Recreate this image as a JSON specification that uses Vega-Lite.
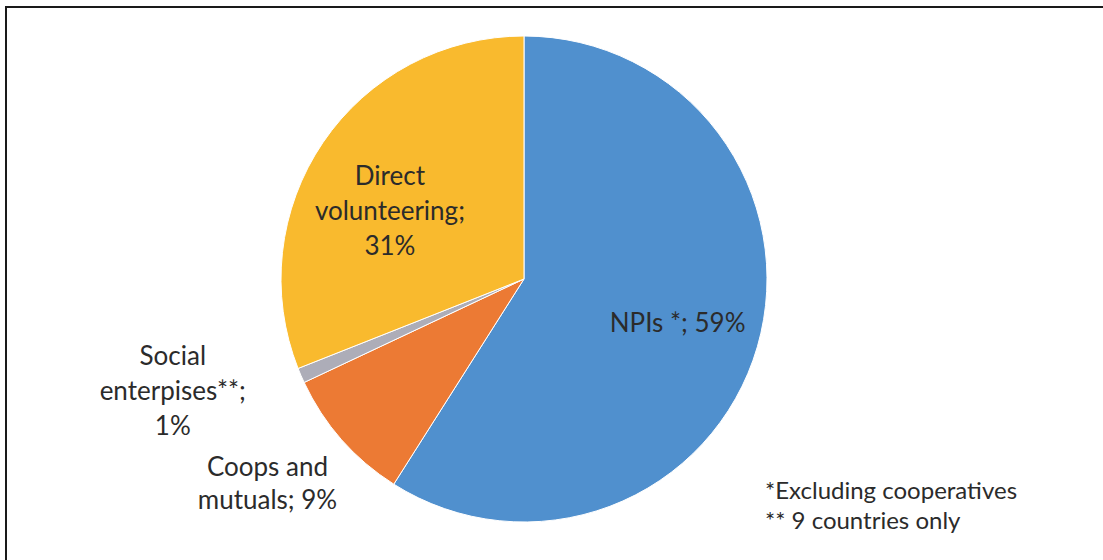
{
  "$schema": "https://vega.github.io/schema/vega-lite/v6.json",
  "width": 1101,
  "height": 557,
  "autosize": {"type": "none"},
  "padding": {"left": 6, "top": 7, "right": -4, "bottom": -4},
  "background": "white",
  "config": {
    "view": {"stroke": "#1a1a1a", "strokeWidth": 2},
    "text": {"font": "Lato", "fontSize": 26, "fill": "#2b2b2b", "lineBreak": "\n"}
  },
  "data": {
    "values": [
      {"key": "npi", "label": "NPIs *; 59%", "value": 59, "order": 1},
      {"key": "coop", "label": "Coops and\nmutuals; 9%", "value": 9, "order": 2},
      {"key": "social", "label": "Social\nenterpises**;\n1%", "value": 1, "order": 3},
      {"key": "direct", "label": "Direct\nvolunteering;\n31%", "value": 31, "order": 4}
    ]
  },
  "encoding": {
    "x": {"datum": 47.048, "type": "quantitative", "scale": {"domain": [0, 100], "nice": false, "zero": false}, "axis": null},
    "y": {"datum": 48.833, "type": "quantitative", "scale": {"domain": [0, 100], "nice": false, "zero": false, "reverse": true}, "axis": null},
    "theta": {"field": "value", "type": "quantitative", "stack": true},
    "order": {"field": "order", "type": "quantitative"}
  },
  "layer": [
    {
      "mark": {"type": "arc", "outerRadius": 243, "stroke": "white", "strokeWidth": 1},
      "encoding": {
        "color": {
          "field": "key",
          "type": "nominal",
          "scale": {"domain": ["npi", "coop", "social", "direct"], "range": ["#5090CE", "#EC7A34", "#ADADB8", "#F9BA2E"]},
          "legend": null
        }
      }
    },
    {
      "mark": {"type": "text", "radius": 160, "align": "center", "baseline": "middle", "lineHeight": 36},
      "encoding": {"text": {"condition": {"test": "datum.key === 'npi'", "field": "label"}, "value": ""}}
    },
    {
      "mark": {"type": "text", "radius": 150, "align": "center", "baseline": "middle", "lineHeight": 35, "dx": -10, "dy": -18},
      "encoding": {"text": {"condition": {"test": "datum.key === 'direct'", "field": "label"}, "value": ""}}
    },
    {
      "mark": {"type": "text", "radius": 362, "align": "center", "baseline": "middle", "lineHeight": 35, "dx": -19, "dy": -66},
      "encoding": {"text": {"condition": {"test": "datum.key === 'social'", "field": "label"}, "value": ""}}
    },
    {
      "mark": {"type": "text", "radius": 326, "align": "center", "baseline": "middle", "lineHeight": 33, "dx": -12, "dy": -27},
      "encoding": {"text": {"condition": {"test": "datum.key === 'coop'", "field": "label"}, "value": ""}}
    },
    {
      "data": {"values": [{"note": "*Excluding cooperatives\n** 9 countries only"}]},
      "mark": {"type": "text", "align": "left", "baseline": "middle", "lineHeight": 30, "fontSize": 24},
      "encoding": {
        "x": {"datum": 68.94, "type": "quantitative"},
        "y": {"datum": 87.07, "type": "quantitative"},
        "text": {"field": "note"},
        "theta": null,
        "order": null
      }
    }
  ]
}
